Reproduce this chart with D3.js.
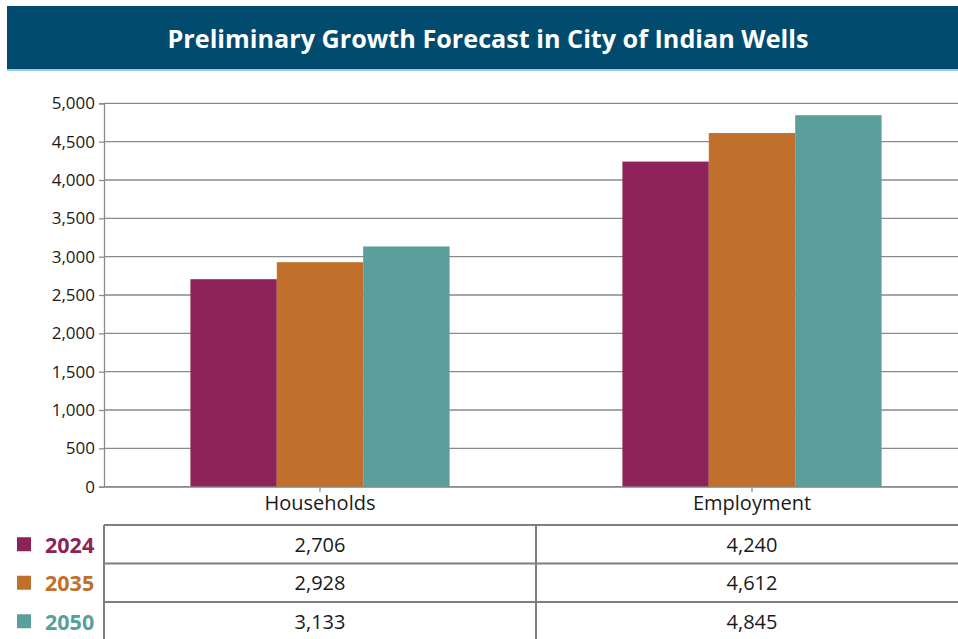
<!DOCTYPE html>
<html><head><meta charset="utf-8">
<script src="https://cdn.jsdelivr.net/npm/d3@7"></script>
<style>
html,body{margin:0;padding:0;background:#fff;}
svg{display:block;}
</style></head>
<body>
<svg id="chart" width="958" height="639"></svg>
<script>
const title = "Preliminary Growth Forecast in City of Indian Wells";
const categories = ["Households", "Employment"];
const seriesNames = ["2024", "2035", "2050"];
const values2024 = [2706, 4240];
const values2035 = [2928, 4612];
const values2050 = [3133, 4845];
const yTicks = [0, 500, 1000, 1500, 2000, 2500, 3000, 3500, 4000, 4500, 5000];
const colors = ["#8E2359", "#C0702A", "#5A9F9B"];

(function () {
const series = [values2024, values2035, values2050];
const svg = d3.select("#chart");
const font = "'Open Sans', 'Noto Sans', sans-serif";

// Title banner
svg.append("rect").attr("x", 7).attr("y", 6).attr("width", 970).attr("height", 63).attr("fill", "#004B6E");
svg.append("rect").attr("x", 7).attr("y", 69).attr("width", 970).attr("height", 2).attr("fill", "#9CCBE0");
svg.append("text").attr("x", 488).attr("y", 38).attr("text-anchor", "middle").attr("dominant-baseline", "central")
  .attr("fill", "#fff").attr("font-family", font).attr("font-weight", 700).attr("font-size", 25.2)
  .text(title);

const pLeft = 104, pRight = 968, pTop = 103.3, pBottom = 486.7;
const x = d3.scaleBand().domain(categories).range([pLeft, pRight]).paddingInner(0.4).paddingOuter(0.2);
const xs = d3.scaleBand().domain(seriesNames).range([0, x.bandwidth()]).padding(0);
const y = d3.scaleLinear().domain([0, 5000]).range([pBottom, pTop]);

// grid
svg.append("g").selectAll("line").data(yTicks).join("line")
  .attr("x1", pLeft).attr("x2", pRight).attr("y1", d => y(d)).attr("y2", d => y(d))
  .attr("stroke", "#8a8a8a").attr("stroke-width", 1.3);

// y axis
const yAxis = svg.append("g").attr("transform", `translate(${pLeft},0)`)
  .call(d3.axisLeft(y).tickValues(yTicks).tickFormat(d3.format(",")).tickSize(5).tickPadding(4));
yAxis.select(".domain").attr("stroke", "#8a8a8a").attr("stroke-width", 1.3);
yAxis.selectAll(".tick line").attr("stroke", "#8a8a8a").attr("stroke-width", 1.3);
yAxis.selectAll("text").attr("font-family", font).attr("font-size", 17).attr("fill", "#1a1a1a");

// bars
categories.forEach((c, ci) => {
  svg.append("g").selectAll("rect").data(seriesNames).join("rect")
    .attr("x", s => x(c) + xs(s))
    .attr("width", xs.bandwidth())
    .attr("y", (s, si) => y(series[si][ci]))
    .attr("height", (s, si) => pBottom - y(series[si][ci]))
    .attr("fill", (s, si) => colors[si]);
});

// x axis
const xAxis = svg.append("g").attr("transform", `translate(0,${pBottom})`)
  .call(d3.axisBottom(x).tickSize(5).tickPadding(2).tickSizeOuter(0));
xAxis.select(".domain").attr("stroke", "#8a8a8a").attr("stroke-width", 1.3);
xAxis.selectAll(".tick line").attr("stroke", "#8a8a8a").attr("stroke-width", 1.3);
xAxis.selectAll("text").attr("font-family", font).attr("font-size", 20).attr("fill", "#1a1a1a").attr("dy", "0.8em");

// table
const tTop = 525, rowH = 38.5;
const tb = svg.append("g");
const lineColor = "#7f7f7f";
[0, 1, 2].forEach(i => {
  tb.append("line").attr("x1", pLeft).attr("x2", pRight).attr("y1", tTop + i * rowH).attr("y2", tTop + i * rowH)
    .attr("stroke", lineColor).attr("stroke-width", 2);
});
[pLeft, pLeft + x.step(), pRight].forEach(xv => {
  tb.append("line").attr("x1", xv).attr("x2", xv).attr("y1", tTop).attr("y2", 639)
    .attr("stroke", lineColor).attr("stroke-width", 2);
});
seriesNames.forEach((s, si) => {
  const cy = tTop + si * rowH + rowH / 2;
  tb.append("rect").attr("x", 17).attr("y", cy - 7).attr("width", 14).attr("height", 14).attr("fill", colors[si]);
  tb.append("text").attr("x", 45).attr("y", cy).attr("dominant-baseline", "central")
    .attr("font-family", font).attr("font-weight", 700).attr("font-size", 21.5).attr("fill", colors[si]).text(s);
  categories.forEach((c, ci) => {
    tb.append("text").attr("x", x(c) + x.bandwidth() / 2).attr("y", cy).attr("text-anchor", "middle")
      .attr("dominant-baseline", "central").attr("font-family", font).attr("font-size", 20).attr("fill", "#1a1a1a")
      .text(d3.format(",")(series[si][ci]));
  });
});
})();
</script>
</body></html>
